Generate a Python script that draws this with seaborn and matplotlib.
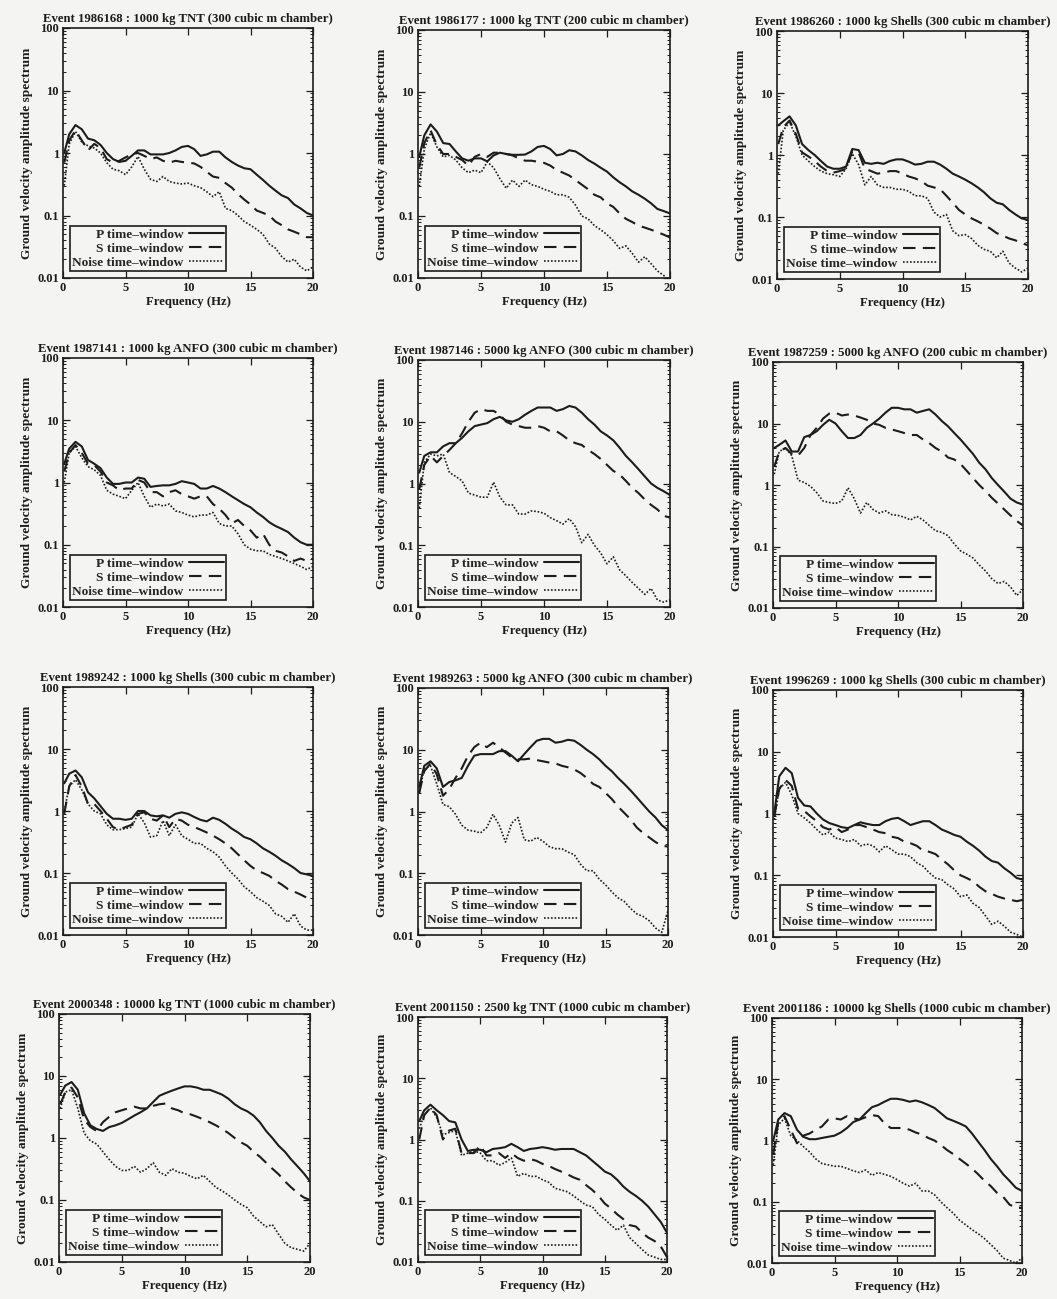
import numpy as np
import pandas as pd
import matplotlib
matplotlib.use("Agg")
import matplotlib.pyplot as plt
import matplotlib.ticker as mticker
import seaborn as sns

# Sample frequencies (Hz) of the spectra
freq = [0.1] + list(np.arange(0.5, 20.01, 0.5))

titles = [
    "Event 1986168 : 1000 kg TNT (300 cubic m chamber)",
    "Event 1986177 : 1000 kg TNT (200 cubic m chamber)",
    "Event 1986260 : 1000 kg Shells (300 cubic m chamber)",
    "Event 1987141 : 1000 kg ANFO (300 cubic m chamber)",
    "Event 1987146 : 5000 kg ANFO (300 cubic m chamber)",
    "Event 1987259 : 5000 kg ANFO (200 cubic m chamber)",
    "Event 1989242 : 1000 kg Shells (300 cubic m chamber)",
    "Event 1989263 : 5000 kg ANFO (300 cubic m chamber)",
    "Event 1996269 : 1000 kg Shells (300 cubic m chamber)",
    "Event 2000348 : 10000 kg TNT (1000 cubic m chamber)",
    "Event 2001150 : 2500 kg TNT (1000 cubic m chamber)",
    "Event 2001186 : 10000 kg Shells (1000 cubic m chamber)",
]

legend_labels = ["P time\u2013window", "S time\u2013window", "Noise time\u2013window"]
y_ticks = [0.01, 0.1, 1, 10, 100]
y_tick_labels = ["0.01", "0.1", "1", "10", "100"]
x_ticks = [0, 5, 10, 15, 20]

# ---- Event 1986168
p_1986168 = [1.0, 2.0, 2.8, 2.4, 1.7, 1.6, 1.35, 1.0, 0.8, 0.72, 0.75, 0.9, 1.1, 1.1, 0.95, 0.95, 0.95, 1.0, 1.1, 1.25, 1.3,
             1.15, 0.9, 0.95, 1.05, 1.05, 0.85, 0.72, 0.63, 0.57, 0.55, 0.45, 0.37, 0.3, 0.25, 0.21, 0.19, 0.15, 0.13, 0.11, 0.1]
s_1986168 = [0.7, 1.6, 2.3, 1.6, 1.1, 1.4, 1.2, 0.8, 0.7, 0.75, 0.85, 0.95, 1.0, 0.9, 0.8, 0.85, 0.75, 0.7, 0.75, 0.72, 0.7,
             0.68, 0.6, 0.5, 0.42, 0.4, 0.33, 0.28, 0.22, 0.18, 0.15, 0.12, 0.11, 0.1, 0.08, 0.07, 0.06, 0.055, 0.05, 0.045, 0.045]
n_1986168 = [0.3, 1.4, 2.2, 1.5, 1.3, 1.2, 1.0, 0.7, 0.55, 0.52, 0.45, 0.6, 0.88, 0.55, 0.38, 0.35, 0.42, 0.35, 0.33, 0.32, 0.33,
             0.3, 0.28, 0.24, 0.2, 0.24, 0.13, 0.12, 0.1, 0.08, 0.07, 0.06, 0.05, 0.035, 0.03, 0.022, 0.018, 0.02, 0.015, 0.013, 0.015]

# ---- Event 1986177
p_1986177 = [0.9, 2.0, 3.0, 2.3, 1.5, 1.45, 1.1, 0.85, 0.78, 0.85, 0.85, 0.76, 0.95, 1.05, 1.0, 0.97, 0.97, 0.98, 1.1, 1.3, 1.35,
             1.2, 0.95, 1.0, 1.15, 1.1, 0.95, 0.8, 0.7, 0.6, 0.52, 0.42, 0.35, 0.3, 0.25, 0.22, 0.19, 0.16, 0.13, 0.12, 0.11]
s_1986177 = [0.6, 1.5, 2.4, 1.4, 1.0, 1.0, 0.9, 0.8, 0.65, 0.9, 1.0, 0.9, 1.05, 1.05, 1.0, 0.95, 0.85, 0.78, 0.78, 0.75, 0.72,
             0.65, 0.55, 0.5, 0.45, 0.38, 0.32, 0.27, 0.22, 0.2, 0.16, 0.14, 0.11, 0.09, 0.08, 0.07, 0.065, 0.06, 0.055, 0.05, 0.045]
n_1986177 = [0.3, 1.2, 2.2, 1.3, 0.9, 0.95, 0.8, 0.6, 0.5, 0.55, 0.5, 0.75, 0.6, 0.4, 0.28, 0.38, 0.3, 0.38, 0.32, 0.3, 0.27,
             0.25, 0.22, 0.22, 0.2, 0.15, 0.1, 0.09, 0.07, 0.06, 0.05, 0.04, 0.03, 0.033, 0.025, 0.018, 0.022, 0.017, 0.013, 0.011, 0.009]

# ---- Event 1986260
p_1986260 = [3.0, 3.5, 4.2, 3.0, 1.5, 1.2, 1.0, 0.8, 0.65, 0.6, 0.6, 0.65, 1.25, 1.2, 0.75, 0.72, 0.75, 0.72, 0.8, 0.85, 0.85,
             0.78, 0.7, 0.72, 0.78, 0.78, 0.7, 0.6, 0.5, 0.45, 0.4, 0.35, 0.3, 0.25, 0.2, 0.17, 0.16, 0.13, 0.11, 0.095, 0.09]
s_1986260 = [1.5, 2.8, 3.6, 2.2, 1.1, 0.95, 0.8, 0.65, 0.55, 0.52, 0.55, 0.6, 1.15, 1.1, 0.6, 0.55, 0.5, 0.52, 0.55, 0.55, 0.5,
             0.45, 0.42, 0.38, 0.32, 0.3, 0.28, 0.22, 0.17, 0.13, 0.11, 0.095, 0.085, 0.075, 0.065, 0.055, 0.05, 0.045, 0.042, 0.038, 0.035]
n_1986260 = [0.5, 2.5, 3.4, 2.0, 1.0, 0.8, 0.65, 0.55, 0.5, 0.48, 0.45, 0.6, 1.05, 0.7, 0.33, 0.45, 0.33, 0.3, 0.3, 0.28, 0.28,
             0.26, 0.22, 0.22, 0.2, 0.12, 0.1, 0.11, 0.06, 0.05, 0.052, 0.045, 0.035, 0.03, 0.028, 0.022, 0.028, 0.018, 0.015, 0.013, 0.015]

# ---- Event 1987141
p_1987141 = [2.0, 3.5, 4.5, 3.8, 2.3, 2.0, 1.7, 1.2, 0.95, 0.95, 1.0, 1.0, 1.2, 1.15, 0.85, 0.88, 0.9, 0.9, 0.95, 1.05, 1.0,
             0.95, 0.8, 0.8, 0.88, 0.8, 0.7, 0.6, 0.52, 0.45, 0.4, 0.33, 0.28, 0.23, 0.2, 0.18, 0.16, 0.13, 0.11, 0.1, 0.1]
s_1987141 = [1.5, 3.0, 4.0, 3.0, 2.0, 1.9, 1.5, 1.0, 0.9, 0.75, 0.8, 0.8, 1.1, 1.0, 0.7, 0.7, 0.6, 0.7, 0.75, 0.65, 0.6,
             0.55, 0.6, 0.6, 0.45, 0.38, 0.3, 0.22, 0.25, 0.2, 0.17, 0.13, 0.15, 0.1, 0.08, 0.075, 0.065, 0.055, 0.06, 0.055, 0.06]
n_1987141 = [1.0, 3.0, 3.8, 2.5, 1.8, 1.6, 1.3, 0.75, 0.65, 0.6, 0.55, 0.75, 1.0, 0.6, 0.4, 0.45, 0.42, 0.45, 0.35, 0.33, 0.3,
             0.28, 0.3, 0.3, 0.33, 0.22, 0.2, 0.2, 0.15, 0.1, 0.085, 0.08, 0.08, 0.07, 0.065, 0.06, 0.055, 0.05, 0.045, 0.04, 0.045]

# ---- Event 1987146
p_1987146 = [1.5, 2.8, 3.2, 3.2, 4.0, 4.5, 4.5, 5.5, 7.0, 8.5, 9.0, 9.5, 11, 12, 10.5, 10, 11, 13, 15, 17, 17,
             17, 15, 16, 18, 17, 14, 11, 9, 7, 6, 5, 3.8, 2.8, 2.2, 1.7, 1.3, 1.0, 0.85, 0.75, 0.65]
s_1987146 = [0.8, 2.0, 2.8, 2.2, 2.8, 3.5, 4.5, 6.5, 10, 14, 16, 15, 15, 13, 10, 9, 8.5, 8, 8, 8.5, 8,
             7, 7, 6, 5, 4.5, 4.2, 3.5, 3.0, 2.5, 2.0, 1.6, 1.4, 1.1, 0.85, 0.7, 0.55, 0.45, 0.38, 0.3, 0.28]
n_1987146 = [0.4, 2.2, 3.0, 2.8, 3.0, 1.5, 1.3, 1.1, 0.7, 0.65, 0.6, 0.6, 1.05, 0.6, 0.45, 0.45, 0.32, 0.32, 0.36, 0.35, 0.33,
             0.28, 0.25, 0.22, 0.27, 0.2, 0.11, 0.15, 0.1, 0.075, 0.05, 0.065, 0.04, 0.032, 0.025, 0.02, 0.016, 0.02, 0.013, 0.012, 0.013]

# ---- Event 1987259
p_1987259 = [4.0, 4.5, 5.3, 3.5, 3.5, 6.0, 6.5, 7.5, 9.5, 11.5, 10, 7.5, 5.8, 5.8, 6.5, 8.5, 10, 12, 15, 18, 18,
             17, 17, 15, 16, 17, 14, 11, 9, 7, 5.5, 4.2, 3.2, 2.3, 1.8, 1.3, 1.0, 0.78, 0.6, 0.52, 0.48]
s_1987259 = [2.0, 3.5, 4.0, 3.2, 3.0, 4.0, 6.5, 8.5, 12, 14.5, 15, 13.5, 14, 13.5, 12.5, 11.5, 10, 9.5, 8.5, 8, 7.5,
             7, 6.5, 6.5, 5.5, 4.8, 4.0, 3.5, 2.8, 2.6, 2.2, 1.7, 1.3, 1.0, 0.8, 0.62, 0.5, 0.4, 0.32, 0.26, 0.22]
n_1987259 = [1.5, 3.5, 4.0, 3.0, 1.2, 1.1, 0.95, 0.75, 0.55, 0.52, 0.5, 0.55, 0.9, 0.6, 0.35, 0.52, 0.4, 0.35, 0.38, 0.33, 0.32,
             0.3, 0.27, 0.31, 0.27, 0.22, 0.18, 0.17, 0.15, 0.11, 0.085, 0.075, 0.065, 0.05, 0.04, 0.03, 0.025, 0.027, 0.022, 0.016, 0.02]

# ---- Event 1989242
p_1989242 = [2.8, 4.0, 4.5, 3.5, 2.0, 1.6, 1.2, 0.9, 0.75, 0.75, 0.72, 0.75, 1.0, 1.0, 0.85, 0.82, 0.85, 0.78, 0.9, 0.95, 0.9,
             0.8, 0.72, 0.68, 0.78, 0.72, 0.62, 0.52, 0.45, 0.38, 0.35, 0.3, 0.25, 0.22, 0.19, 0.16, 0.14, 0.12, 0.1, 0.095, 0.09]
s_1989242 = [0.9, 2.5, 3.8, 2.5, 1.3, 1.3, 1.0, 0.75, 0.55, 0.5, 0.55, 0.6, 0.9, 0.95, 0.75, 0.7, 0.85, 0.55, 0.75, 0.7, 0.6,
             0.55, 0.5, 0.45, 0.4, 0.35, 0.3, 0.25, 0.2, 0.16, 0.13, 0.11, 0.1, 0.09, 0.075, 0.065, 0.055, 0.05, 0.045, 0.04, 0.04]
n_1989242 = [1.0, 2.5, 3.2, 2.2, 1.3, 1.0, 0.9, 0.6, 0.5, 0.5, 0.52, 0.55, 0.9, 0.65, 0.38, 0.4, 0.7, 0.4, 0.6, 0.4, 0.35,
             0.3, 0.3, 0.25, 0.22, 0.18, 0.13, 0.1, 0.08, 0.06, 0.05, 0.04, 0.035, 0.03, 0.022, 0.02, 0.016, 0.022, 0.014, 0.012, 0.012]

# ---- Event 1989263
p_1989263 = [2.5, 5.5, 6.5, 5.0, 2.5, 3.0, 3.2, 3.5, 5.5, 8, 8.5, 8.5, 8.5, 9.5, 9.5, 8, 6.5, 8.5, 11, 14, 15,
             15, 13, 13.5, 14.5, 14, 12, 10, 8.5, 7, 5.5, 4.5, 3.5, 2.8, 2.2, 1.7, 1.3, 1.0, 0.8, 0.6, 0.5]
s_1989263 = [2.0, 4.5, 6.0, 4.0, 1.8, 2.3, 3.5, 5.0, 8, 11, 13, 11, 13, 11, 9, 7.5, 7, 7, 7.2, 6.8, 6.5,
             6.2, 6, 5.5, 5.2, 4.8, 4.2, 3.5, 2.8, 2.5, 2.0, 1.6, 1.2, 0.95, 0.75, 0.55, 0.45, 0.38, 0.32, 0.28, 0.27]
n_1989263 = [2.0, 5.0, 5.5, 2.8, 1.3, 1.2, 0.9, 0.6, 0.5, 0.48, 0.45, 0.55, 0.9, 0.6, 0.32, 0.65, 0.8, 0.35, 0.33, 0.38, 0.33,
             0.27, 0.25, 0.25, 0.22, 0.2, 0.14, 0.11, 0.11, 0.08, 0.065, 0.05, 0.04, 0.035, 0.027, 0.022, 0.02, 0.017, 0.013, 0.011, 0.025]

# ---- Event 1996269
p_1996269 = [1.0, 4.0, 5.5, 4.5, 1.8, 1.35, 1.3, 1.0, 0.8, 0.7, 0.65, 0.6, 0.58, 0.65, 0.72, 0.68, 0.65, 0.65, 0.75, 0.82, 0.85,
             0.75, 0.65, 0.7, 0.75, 0.75, 0.65, 0.55, 0.5, 0.45, 0.42, 0.35, 0.3, 0.25, 0.2, 0.17, 0.16, 0.13, 0.11, 0.09, 0.085]
s_1996269 = [0.9, 2.5, 3.5, 2.8, 1.2, 1.1, 0.9, 0.75, 0.6, 0.55, 0.6, 0.5, 0.55, 0.65, 0.65, 0.6, 0.55, 0.5, 0.48, 0.42, 0.4,
             0.35, 0.33, 0.3, 0.25, 0.24, 0.22, 0.18, 0.15, 0.12, 0.1, 0.09, 0.08, 0.065, 0.055, 0.05, 0.045, 0.042, 0.04, 0.038, 0.04]
n_1996269 = [0.8, 2.5, 3.2, 2.0, 1.0, 0.85, 0.7, 0.55, 0.45, 0.5, 0.4, 0.38, 0.35, 0.38, 0.3, 0.32, 0.3, 0.24, 0.3, 0.26, 0.22,
             0.22, 0.2, 0.16, 0.14, 0.11, 0.09, 0.085, 0.07, 0.06, 0.045, 0.048, 0.035, 0.03, 0.022, 0.016, 0.018, 0.015, 0.012, 0.011, 0.01]

# ---- Event 2000348
p_2000348 = [5.0, 7.0, 8.0, 6.0, 2.5, 1.6, 1.4, 1.3, 1.5, 1.6, 1.75, 2.0, 2.3, 2.6, 3.0, 3.8, 4.8, 5.3, 5.8, 6.3, 6.8,
             6.8, 6.5, 6.0, 6.0, 5.5, 5.0, 4.3, 3.5, 3.0, 2.7, 2.3, 1.8, 1.3, 1.0, 0.75, 0.6, 0.45, 0.35, 0.27, 0.2]
s_2000348 = [3.5, 5.5, 6.5, 4.5, 2.0, 1.5, 1.3, 1.8, 2.2, 2.6, 2.8, 3.0, 3.2, 3.0, 3.0, 3.3, 3.5, 3.6, 3.0, 2.8, 2.5,
             2.4, 2.2, 2.0, 1.8, 1.6, 1.4, 1.2, 1.0, 0.85, 0.75, 0.6, 0.5, 0.4, 0.32, 0.26, 0.2, 0.16, 0.13, 0.11, 0.1]
n_2000348 = [3.0, 5.5, 6.0, 3.0, 1.2, 0.9, 0.8, 0.6, 0.45, 0.35, 0.3, 0.3, 0.35, 0.28, 0.32, 0.4, 0.28, 0.25, 0.32, 0.28, 0.27,
             0.24, 0.22, 0.25, 0.2, 0.16, 0.14, 0.12, 0.1, 0.085, 0.075, 0.055, 0.045, 0.037, 0.04, 0.028, 0.02, 0.017, 0.016, 0.015, 0.02]

# ---- Event 2001150
p_2001150 = [2.0, 3.0, 3.7, 3.0, 2.5, 2.0, 1.9, 1.0, 0.65, 0.68, 0.68, 0.62, 0.7, 0.72, 0.75, 0.85, 0.75, 0.65, 0.7, 0.72, 0.75,
             0.72, 0.68, 0.7, 0.7, 0.7, 0.62, 0.55, 0.45, 0.37, 0.3, 0.27, 0.22, 0.17, 0.14, 0.12, 0.1, 0.08, 0.06, 0.045, 0.03]
s_2001150 = [1.0, 2.5, 3.3, 2.5, 1.0, 1.4, 1.5, 0.6, 0.6, 0.6, 0.8, 0.55, 0.55, 0.6, 0.5, 0.6, 0.5, 0.45, 0.48, 0.45, 0.4,
             0.37, 0.33, 0.3, 0.27, 0.24, 0.22, 0.18, 0.15, 0.12, 0.09, 0.075, 0.06, 0.05, 0.04, 0.038, 0.03, 0.025, 0.022, 0.018, 0.012]
n_2001150 = [1.5, 2.5, 3.3, 2.3, 1.2, 1.3, 1.4, 0.55, 0.6, 0.65, 0.6, 0.45, 0.45, 0.38, 0.42, 0.5, 0.25, 0.28, 0.25, 0.25, 0.22,
             0.2, 0.16, 0.15, 0.14, 0.12, 0.1, 0.085, 0.08, 0.06, 0.05, 0.04, 0.033, 0.04, 0.025, 0.02, 0.016, 0.013, 0.012, 0.011, 0.011]

# ---- Event 2001186
p_2001186 = [1.0, 2.2, 2.8, 2.5, 1.5, 1.15, 1.05, 1.05, 1.1, 1.15, 1.2, 1.35, 1.6, 2.0, 2.2, 2.8, 3.5, 3.8, 4.3, 4.8, 4.8,
             4.6, 4.3, 4.5, 4.2, 3.8, 3.4, 2.8, 2.3, 2.1, 1.9, 1.7, 1.3, 0.95, 0.7, 0.5, 0.38, 0.28, 0.22, 0.17, 0.15]
s_2001186 = [0.6, 2.0, 2.5, 1.5, 0.9, 1.2, 1.3, 1.5, 1.7, 2.2, 2.3, 2.2, 2.5, 2.3, 2.2, 2.4, 2.6, 2.5, 1.9, 1.6, 1.6,
             1.6, 1.5, 1.35, 1.25, 1.1, 1.0, 0.85, 0.7, 0.6, 0.5, 0.42, 0.35, 0.28, 0.22, 0.18, 0.14, 0.12, 0.09, 0.08, 0.08]
n_2001186 = [0.4, 1.8, 2.3, 1.2, 1.0, 0.8, 0.65, 0.5, 0.42, 0.4, 0.38, 0.38, 0.35, 0.32, 0.3, 0.33, 0.27, 0.3, 0.28, 0.26, 0.23,
             0.2, 0.18, 0.2, 0.15, 0.15, 0.13, 0.1, 0.08, 0.065, 0.05, 0.042, 0.035, 0.03, 0.025, 0.02, 0.016, 0.012, 0.011, 0.01, 0.012]

events = [
    (p_1986168, s_1986168, n_1986168),
    (p_1986177, s_1986177, n_1986177),
    (p_1986260, s_1986260, n_1986260),
    (p_1987141, s_1987141, n_1987141),
    (p_1987146, s_1987146, n_1987146),
    (p_1987259, s_1987259, n_1987259),
    (p_1989242, s_1989242, n_1989242),
    (p_1989263, s_1989263, n_1989263),
    (p_1996269, s_1996269, n_1996269),
    (p_2000348, s_2000348, n_2000348),
    (p_2001150, s_2001150, n_2001150),
    (p_2001186, s_2001186, n_2001186),
]

# Panel frames in pixels: (left, top, right, bottom)
W, H = 1057, 1299
frames = [
    (63, 28, 313, 278), (418, 30, 670, 278), (777, 31, 1028, 279),
    (63, 358, 313, 607), (418, 360, 670, 607), (773, 362, 1023, 608),
    (63, 687, 313, 935), (418, 688, 668, 935), (773, 690, 1023, 937),
    (59, 1014, 310, 1262), (418, 1017, 667, 1262), (772, 1018, 1022, 1263),
]

sns.set_theme(style="ticks")
bg = "#f4f4f2"
ink = "#1c1c1c"
plt.rcParams["font.family"] = ["Liberation Serif", "DejaVu Serif"]
plt.rcParams["font.weight"] = "bold"
plt.rcParams["axes.labelweight"] = "bold"
plt.rcParams["axes.titleweight"] = "bold"

fig = plt.figure(figsize=(W / 100, H / 100), dpi=100)
fig.patch.set_facecolor(bg)

styles = [
    dict(linestyle="-", linewidth=1.5),
    dict(linestyle=(0, (6, 3.5)), linewidth=1.5),
    dict(linestyle=(0, (1, 1.1)), linewidth=1.2),
]

for title, series, (l, t, r, b) in zip(titles, events, frames):
    ax = fig.add_axes([l / W, 1 - b / H, (r - l) / W, (b - t) / H])
    ax.set_facecolor(bg)
    for vals, label, st in zip(series, legend_labels, styles):
        sns.lineplot(x=freq, y=vals, ax=ax, color=ink, label=label, **st)
    ax.set_yscale("log")
    ax.set_xlim(0, 20)
    ax.set_ylim(0.01, 100)
    ax.set_xticks(x_ticks)
    ax.set_xticklabels([str(v) for v in x_ticks])
    ax.set_yticks(y_ticks)
    ax.set_yticklabels(y_tick_labels)
    ax.yaxis.set_minor_locator(mticker.LogLocator(base=10, subs=np.arange(2, 10)))
    ax.yaxis.set_minor_formatter(mticker.NullFormatter())
    ax.xaxis.set_minor_locator(mticker.NullLocator())
    ax.tick_params(which="both", direction="in", top=True, right=True, colors=ink,
                   labelsize=9, pad=3)
    ax.tick_params(which="major", length=5, width=0.9)
    ax.tick_params(which="minor", length=2.5, width=0.7)
    for lab in ax.get_xticklabels() + ax.get_yticklabels():
        lab.set_fontweight("bold")
    for sp in ax.spines.values():
        sp.set_color(ink)
        sp.set_linewidth(1.2)
    ax.set_title(title, fontsize=9.2, fontweight="bold", pad=4, color=ink)
    ax.set_xlabel("Frequency (Hz)", fontsize=9.2, fontweight="bold", labelpad=1, color=ink)
    ax.set_ylabel("Ground velocity amplitude spectrum", fontsize=9.6, fontweight="bold",
                  labelpad=3, color=ink)
    leg = ax.legend(loc="lower left", markerfirst=False, fancybox=False, frameon=True,
                    edgecolor=ink, facecolor=bg, framealpha=1,
                    handlelength=2.6, handletextpad=0.4, labelspacing=0.12,
                    borderpad=0.15, borderaxespad=0.55,
                    prop={"weight": "bold", "size": 9.6})
    leg.get_frame().set_linewidth(1.2)

fig.savefig("out.png", dpi=100, facecolor=bg)
